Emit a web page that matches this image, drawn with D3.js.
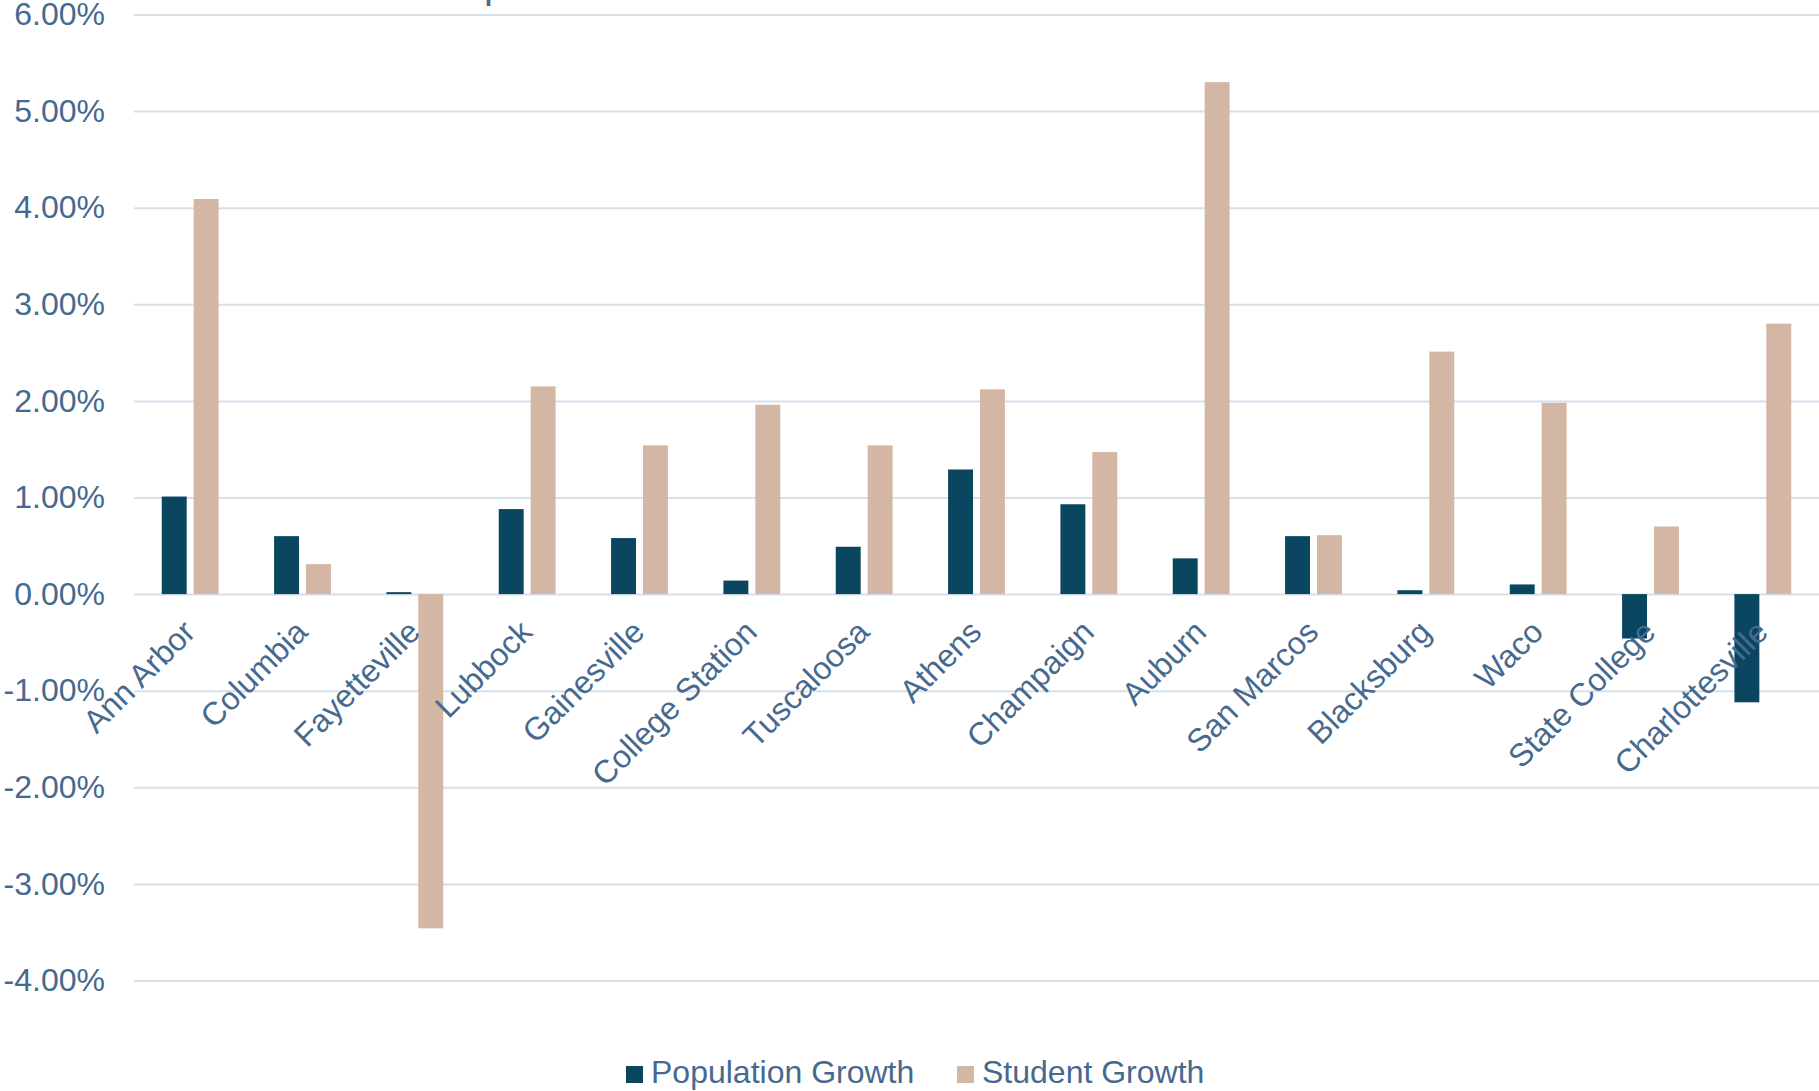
<!DOCTYPE html>
<html>
<head>
<meta charset="utf-8">
<script src="https://cdn.jsdelivr.net/npm/d3@7"></script>
<style>
  body { margin: 0; background: #fff; }
  svg { display: block; }
  text { font-family: "Liberation Sans", Arial, sans-serif; fill: #46698f; }
</style>
</head>
<body>
<svg id="chart"></svg>
<script>
var cities = ["Ann Arbor", "Columbia", "Fayetteville", "Lubbock", "Gainesville",
    "College Station", "Tuscaloosa", "Athens", "Champaign", "Auburn",
    "San Marcos", "Blacksburg", "Waco", "State College", "Charlottesville"];
var populationGrowth = [0.0101, 0.0060, 0.0002, 0.0088, 0.0058, 0.0014, 0.0049, 0.0129,
    0.0093, 0.0037, 0.0060, 0.0004, 0.0010, -0.0046, -0.0112];
var studentGrowth = [0.0409, 0.0031, -0.0346, 0.0215, 0.0154, 0.0196, 0.0154, 0.0212,
    0.0147, 0.0530, 0.0061, 0.0251, 0.0198, 0.0070, 0.0280];
var yTicks = [-0.04, -0.03, -0.02, -0.01, 0, 0.01, 0.02, 0.03, 0.04, 0.05, 0.06];
var seriesNames = ["Population Growth", "Student Growth"];
var colors = ["#0b4660", "#d3b7a4"];
var title = "Annual Growth Comparison";

var W = 1819, H = 1091;
var plotLeft = 134, plotRight = 1819;

var svg = d3.select("#chart").attr("width", W).attr("height", H);

// title sits above the visible area, only the descender of its "p" shows
var titleText = svg.append("text")
    .attr("y", -2)
    .style("font-size", "40px")
    .text(title);
var pIdx = title.indexOf("p");
var pOffset = titleText.node().getSubStringLength(0, pIdx);
titleText.attr("x", 484 - pOffset);

var x = d3.scaleBand().domain(cities).range([plotLeft, plotRight]);
var y = d3.scaleLinear().domain([-0.04, 0.06]).range([980.5, 14.5]);

var pct = d3.format(".2%");

// gridlines + y labels
var yAxis = svg.append("g")
    .attr("transform", "translate(" + plotLeft + ",0)")
    .call(d3.axisLeft(y).tickValues(yTicks)
        .tickFormat(function(d) { return pct(d).replace("\u2212", "-"); })
        .tickSize(-(plotRight - plotLeft)).tickPadding(29));
yAxis.select(".domain").remove();
yAxis.selectAll("line").attr("stroke", "#d6e0eb").attr("stroke-width", 2);
yAxis.selectAll("text").style("font-size", "32px").attr("fill", "#46698f");

var bw = x.bandwidth() * 0.222;
var gap = x.bandwidth() * 0.062;

var series = [populationGrowth, studentGrowth];
series.forEach(function(vals, s) {
    svg.append("g").selectAll("rect")
        .data(vals)
        .enter().append("rect")
        .attr("x", function(d, i) {
            var c = x(cities[i]) + x.bandwidth() / 2;
            return s === 0 ? c - gap / 2 - bw : c + gap / 2;
        })
        .attr("y", function(d) { return y(Math.max(0, d)); })
        .attr("width", bw)
        .attr("height", function(d) { return Math.abs(y(d) - y(0)); })
        .attr("fill", colors[s]);
});

// category labels
svg.append("g").selectAll("text")
    .data(cities)
    .enter().append("text")
    .attr("transform", function(d) {
        return "translate(" + (x(d) + x.bandwidth() / 2 - 1) + "," + (y(0) + 32) + ") rotate(-45)";
    })
    .attr("text-anchor", "end")
    .attr("dy", "0.35em")
    .style("font-size", "32px")
    .text(function(d) { return d; });

// legend
var legend = svg.append("g");
var legendX = [626, 957];
seriesNames.forEach(function(name, i) {
    legend.append("rect")
        .attr("x", legendX[i]).attr("y", 1066)
        .attr("width", 17).attr("height", 17)
        .attr("fill", colors[i]);
    legend.append("text")
        .attr("x", legendX[i] + 25).attr("y", 1083)
        .style("font-size", "32px")
        .text(name);
});
</script>
</body>
</html>
